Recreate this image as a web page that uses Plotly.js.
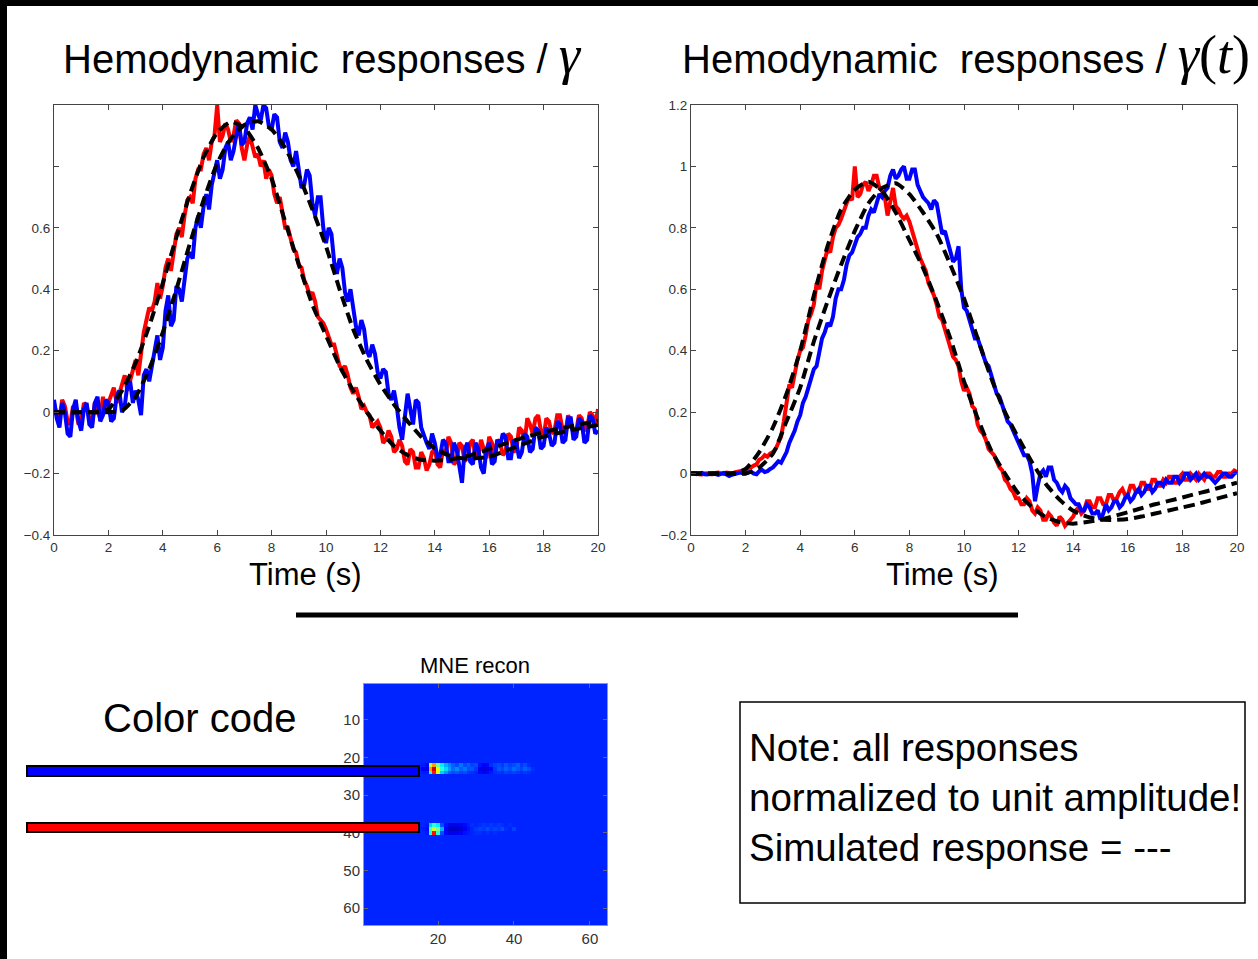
<!DOCTYPE html>
<html>
<head>
<meta charset="utf-8">
<script src="https://cdn.plot.ly/plotly-3.0.1.min.js"></script>
<style>
html,body{margin:0;padding:0;background:#000;}
#chart{width:1258px;height:959px;}
</style>
</head>
<body>
<div id="chart"></div>
<script>
// ---------------- DATA ----------------
// Noisy measured responses, sampled every 0.1 s from 0 to 20 s
const leftRedNoisy = [
 0.03,-0.01,-0.02,0.04,0.02,-0.03,-0.04,0.02,0.01,-0.04,
 -0.03,0.03,0.02,-0.02,-0.04,0.03,0.0,-0.02,0.05,0.0,
 0.03,0.06,0.08,0.03,0.06,0.1,0.12,0.07,0.1,0.14,
 0.17,0.12,0.2,0.26,0.3,0.34,0.33,0.36,0.42,0.37,
 0.41,0.47,0.5,0.46,0.52,0.58,0.6,0.57,0.64,0.69,
 0.7,0.68,0.76,0.79,0.79,0.84,0.86,0.82,0.88,0.9,
 1.0,0.88,0.9,0.94,0.92,0.88,0.9,0.95,0.94,0.86,
 0.82,0.87,0.9,0.86,0.83,0.84,0.8,0.82,0.76,0.79,
 0.77,0.71,0.68,0.7,0.64,0.6,0.6,0.56,0.53,0.52,
 0.48,0.47,0.43,0.41,0.38,0.39,0.36,0.31,0.3,0.29,
 0.27,0.24,0.22,0.22,0.19,0.15,0.14,0.15,0.12,0.08,
 0.06,0.08,0.05,0.01,0.02,0.0,-0.01,-0.05,-0.04,-0.03,
 -0.05,-0.1,-0.09,-0.06,-0.08,-0.13,-0.12,-0.09,-0.11,-0.16,
 -0.17,-0.12,-0.13,-0.18,-0.18,-0.13,-0.15,-0.19,-0.17,-0.13,
 -0.12,-0.17,-0.18,-0.12,-0.14,-0.08,-0.1,-0.17,-0.16,-0.1,
 -0.11,-0.16,-0.15,-0.1,-0.09,-0.15,-0.14,-0.09,-0.12,-0.15,
 -0.08,-0.1,-0.14,-0.09,-0.1,-0.14,-0.13,-0.07,-0.08,-0.13,
 -0.12,-0.05,-0.06,-0.1,-0.02,-0.04,-0.07,-0.02,-0.01,-0.06,
 -0.08,-0.02,-0.03,-0.07,-0.06,-0.01,-0.01,-0.06,-0.07,-0.01,
 -0.03,-0.07,-0.06,-0.01,-0.02,-0.06,-0.05,0.0,-0.01,-0.04,
 0.01];
const leftBlueNoisy = [
 0.04,-0.02,-0.05,0.03,0.0,-0.07,-0.08,0.01,0.04,-0.03,
 -0.06,0.01,0.03,-0.04,-0.05,0.03,0.05,-0.03,-0.01,0.04,
 0.03,-0.03,-0.02,0.05,0.07,0.0,0.02,0.09,0.1,0.03,
 0.07,0.04,-0.01,0.12,0.14,0.1,0.15,0.2,0.25,0.17,
 0.21,0.33,0.38,0.28,0.3,0.41,0.4,0.36,0.44,0.5,
 0.52,0.5,0.6,0.64,0.6,0.67,0.71,0.66,0.74,0.78,
 0.82,0.76,0.79,0.86,0.88,0.82,0.85,0.9,0.94,0.87,
 0.88,0.94,0.96,0.92,1.0,0.97,0.95,1.0,0.99,0.93,
 0.92,0.97,0.96,0.88,0.86,0.91,0.88,0.82,0.8,0.85,
 0.79,0.73,0.74,0.79,0.77,0.68,0.64,0.7,0.7,0.6,
 0.55,0.6,0.58,0.49,0.45,0.5,0.47,0.39,0.36,0.4,
 0.34,0.28,0.25,0.3,0.27,0.2,0.18,0.22,0.19,0.13,
 0.11,0.14,0.13,0.06,0.04,0.07,0.02,-0.05,-0.09,0.0,
 0.06,0.01,-0.04,0.04,0.03,-0.05,-0.08,-0.1,-0.12,-0.07,
 -0.1,-0.15,-0.14,-0.09,-0.1,-0.16,-0.16,-0.1,-0.12,-0.18,
 -0.23,-0.12,-0.1,-0.16,-0.17,-0.1,-0.12,-0.18,-0.2,-0.12,
 -0.1,-0.17,-0.16,-0.09,-0.11,-0.07,-0.08,-0.15,-0.15,-0.09,
 -0.1,-0.15,-0.13,-0.07,-0.08,-0.13,-0.12,-0.05,-0.06,-0.12,
 -0.11,-0.05,-0.07,-0.11,-0.1,-0.03,-0.04,-0.1,-0.09,-0.02,
 -0.02,-0.09,-0.08,-0.02,-0.03,-0.1,-0.09,-0.01,-0.02,-0.07,
 -0.06];
const rightRedNoisy = [
 0.0,0.001,0.002,-0.002,-0.003,0.0,0.001,-0.002,-0.002,0.002,
 0.003,0.0,-0.001,0.003,0.002,0.0,0.004,0.006,0.008,0.01,
 0.012,0.018,0.02,0.026,0.03,0.045,0.05,0.06,0.055,0.065,
 0.07,0.08,0.1,0.12,0.17,0.24,0.29,0.28,0.33,0.37,
 0.4,0.41,0.45,0.5,0.52,0.55,0.62,0.6,0.66,0.7,
 0.73,0.72,0.77,0.8,0.81,0.83,0.86,0.88,0.9,0.89,
 1.0,0.9,0.91,0.94,0.95,0.92,0.94,0.97,0.97,0.93,
 0.92,0.9,0.84,0.88,0.93,0.87,0.86,0.84,0.83,0.84,
 0.82,0.79,0.76,0.72,0.7,0.68,0.66,0.62,0.6,0.58,
 0.55,0.51,0.5,0.47,0.44,0.4,0.38,0.37,0.35,0.3,
 0.27,0.28,0.26,0.22,0.21,0.16,0.14,0.13,0.11,0.08,
 0.07,0.06,0.04,0.02,0.01,-0.02,-0.03,-0.05,-0.06,-0.08,
 -0.08,-0.1,-0.1,-0.08,-0.09,-0.12,-0.13,-0.11,-0.12,-0.15,
 -0.15,-0.13,-0.14,-0.16,-0.17,-0.14,-0.15,-0.17,-0.16,-0.15,
 -0.14,-0.12,-0.11,-0.13,-0.12,-0.09,-0.09,-0.11,-0.11,-0.08,
 -0.08,-0.1,-0.1,-0.07,-0.07,-0.09,-0.08,-0.06,-0.05,-0.07,
 -0.07,-0.04,-0.04,-0.06,-0.06,-0.03,-0.03,-0.05,-0.05,-0.02,
 -0.02,-0.04,-0.04,-0.02,-0.03,-0.01,-0.01,-0.03,-0.03,-0.01,
 0.0,-0.02,-0.02,0.0,-0.01,-0.02,0.0,-0.01,-0.02,0.0,
 0.0,-0.01,-0.01,0.005,0.005,-0.01,-0.01,0.0,0.0,0.01,
 0.005];
const rightBlueNoisy = [
 0.0,0.001,-0.002,0.001,0.002,-0.002,-0.003,0.0,0.001,-0.002,
 -0.004,0.0,0.002,-0.003,-0.008,-0.004,-0.001,0.002,0.003,0.001,
 0.0,0.004,0.006,0.0,-0.002,0.008,0.012,0.005,0.008,0.015,
 0.02,0.03,0.04,0.035,0.05,0.07,0.1,0.12,0.14,0.17,
 0.19,0.23,0.25,0.28,0.31,0.34,0.35,0.4,0.44,0.46,
 0.49,0.48,0.51,0.57,0.6,0.6,0.63,0.68,0.71,0.72,
 0.75,0.77,0.78,0.8,0.8,0.84,0.86,0.85,0.88,0.91,
 0.9,0.92,0.93,0.97,0.99,0.96,0.97,0.99,1.0,0.96,
 0.96,0.99,0.99,0.94,0.92,0.9,0.89,0.88,0.86,0.89,
 0.88,0.82,0.78,0.79,0.76,0.72,0.69,0.7,0.74,0.6,
 0.54,0.53,0.5,0.47,0.44,0.44,0.41,0.38,0.36,0.35,
 0.32,0.29,0.26,0.25,0.22,0.19,0.17,0.16,0.14,0.12,
 0.1,0.08,0.06,0.06,0.04,0.0,-0.09,-0.04,0.0,0.01,
 -0.01,0.02,0.02,-0.02,-0.03,-0.05,-0.06,-0.04,-0.05,-0.08,
 -0.09,-0.1,-0.1,-0.12,-0.12,-0.1,-0.11,-0.13,-0.13,-0.12,
 -0.15,-0.13,-0.1,-0.12,-0.11,-0.09,-0.09,-0.11,-0.1,-0.08,
 -0.07,-0.09,-0.08,-0.06,-0.05,-0.07,-0.06,-0.04,-0.04,-0.06,
 -0.05,-0.03,-0.03,-0.04,-0.02,-0.03,-0.03,-0.01,-0.01,-0.03,
 -0.02,0.0,0.0,-0.02,-0.01,0.0,-0.02,-0.01,0.0,-0.01,
 -0.01,-0.02,-0.03,-0.02,-0.01,0.0,0.0,-0.01,-0.01,0.0,
 0.005];
const noisyStart = 0, noisyStep = 0.1;

// Simulated (dashed) responses, sampled every 0.5 s from 0 to 20 s
const leftRedSim = [0,0,0,0,0.01,0.07,0.16,0.28,0.42,0.57,
 0.71,0.83,0.91,0.945,0.925,0.86,0.76,0.62,0.48,0.35,
 0.25,0.15,0.07,0.0,-0.06,-0.11,-0.14,-0.155,-0.158,-0.155,
 -0.147,-0.135,-0.12,-0.105,-0.09,-0.077,-0.065,-0.055,-0.046,-0.037,
 -0.028];
const leftBlueSim = [0,0,0,0,0,0.005,0.05,0.14,0.26,0.4,
 0.55,0.69,0.81,0.89,0.935,0.947,0.92,0.86,0.77,0.66,
 0.54,0.4,0.27,0.17,0.09,0.025,-0.03,-0.08,-0.118,-0.14,
 -0.15,-0.15,-0.145,-0.13,-0.113,-0.096,-0.08,-0.069,-0.059,-0.05,
 -0.042];
const rightRedSim = [0,0,0,0,0.015,0.07,0.15,0.26,0.4,0.58,
 0.74,0.86,0.925,0.95,0.92,0.85,0.76,0.67,0.56,0.44,
 0.3,0.18,0.075,0.0,-0.066,-0.11,-0.142,-0.158,-0.163,-0.158,
 -0.15,-0.138,-0.126,-0.113,-0.1,-0.089,-0.078,-0.066,-0.055,-0.042,
 -0.03];
const rightBlueSim = [0,0,0,0,0,0.02,0.065,0.17,0.28,0.43,
 0.56,0.68,0.79,0.88,0.93,0.945,0.91,0.85,0.78,0.68,
 0.57,0.44,0.31,0.2,0.115,0.035,-0.034,-0.085,-0.121,-0.14,
 -0.15,-0.151,-0.148,-0.14,-0.13,-0.12,-0.11,-0.1,-0.088,-0.076,
 -0.064];
const simStart = 0, simStep = 0.5;

// Axis ticks
const timeTicks = [0,2,4,6,8,10,12,14,16,18,20];
const leftYTicks = [-0.4,-0.2,0,0.2,0.4,0.6,0.8,1];
const leftYLabels = ['\u22120.4','\u22120.2','0','0.2','0.4','0.6','',''];
const rightYTicks = [-0.2,0,0.2,0.4,0.6,0.8,1,1.2];
const rightYLabels = ['\u22120.2','0','0.2','0.4','0.6','0.8','1','1.2'];

// MNE reconstruction image (64 x 64), background level and the two active bands
const mneSize = 64;
const mneBackground = 0.16;
const bandFirstCol = 16;               // 1-based column of the first value in each band row
const blueBandRows = [22, 23, 24];
const blueRow22 = [0.15,0.13,0.55,0.72,0.5,0.36,0.3,0.26,0.22,0.2,0.24,0.2,0.22,0.19,0.2,0.14,0.12,0.13,0.17,0.19,0.2,0.18,0.21,0.19,0.2,0.22,0.18,0.2,0.17,0.16,0.16,0.16];
const blueRow23 = [0.12,0.1,0.72,0.92,0.62,0.42,0.34,0.28,0.23,0.26,0.22,0.24,0.2,0.21,0.18,0.11,0.09,0.1,0.12,0.18,0.21,0.19,0.22,0.2,0.23,0.21,0.19,0.22,0.2,0.17,0.16,0.16];
const blueRow24 = [0.15,0.15,0.4,0.85,0.58,0.33,0.27,0.22,0.2,0.21,0.19,0.2,0.18,0.17,0.16,0.13,0.12,0.13,0.15,0.17,0.18,0.17,0.19,0.18,0.19,0.18,0.17,0.18,0.17,0.16,0.16,0.16];
const redBandRows = [38, 39, 40];
const redRow38 = [0.16,0.15,0.33,0.42,0.36,0.2,0.14,0.1,0.09,0.1,0.11,0.13,0.15,0.17,0.16,0.17,0.18,0.17,0.18,0.17,0.18,0.17,0.16,0.17,0.16,0.16,0.16,0.16,0.16,0.16,0.16,0.16];
const redRow39 = [0.15,0.14,0.45,0.58,0.5,0.3,0.12,0.07,0.06,0.07,0.08,0.11,0.14,0.16,0.18,0.19,0.18,0.2,0.18,0.19,0.18,0.2,0.17,0.16,0.19,0.16,0.16,0.16,0.16,0.16,0.16,0.16];
const redRow40 = [0.16,0.15,0.4,0.86,0.42,0.2,0.13,0.1,0.1,0.11,0.12,0.14,0.15,0.16,0.17,0.17,0.16,0.17,0.16,0.17,0.16,0.16,0.16,0.16,0.16,0.16,0.16,0.16,0.16,0.16,0.16,0.16];
const mneXTicks = [20,40,60];
const mneYTicks = [10,20,30,40,50,60];

// ---------------- BUILD ----------------
const W = 1258, H = 959;
const fx = p => p / W;
const fy = p => 1 - p / H;

const z = [];
for (let r = 0; r < mneSize; r++) { z.push(new Array(mneSize).fill(mneBackground)); }
function putRow(rowNum, vals) { vals.forEach((v, i) => { z[rowNum - 1][bandFirstCol - 1 + i] = v; }); }
[blueRow22, blueRow23, blueRow24].forEach((vals, i) => putRow(blueBandRows[i], vals));
[redRow38, redRow39, redRow40].forEach((vals, i) => putRow(redBandRows[i], vals));

const jet = [[0,'rgb(0,0,143)'],[0.125,'rgb(0,0,255)'],[0.375,'rgb(0,255,255)'],[0.625,'rgb(255,255,0)'],[0.875,'rgb(255,0,0)'],[1,'rgb(128,0,0)']];

function noisy(y, color, xa, ya) {
  return {type:'scatter', mode:'lines', y:y, x0:noisyStart, dx:noisyStep, xaxis:xa, yaxis:ya,
    line:{color:color, width:4}, hoverinfo:'skip'};
}
function sim(y, xa, ya) {
  return {type:'scatter', mode:'lines', y:y, x0:simStart, dx:simStep, xaxis:xa, yaxis:ya,
    line:{color:'#000', width:4, dash:'11px,6px', shape:'spline', smoothing:0.6}, hoverinfo:'skip'};
}

const traces = [
  {type:'heatmap', z:z, x0:1, dx:1, y0:1, dy:1, xaxis:'x3', yaxis:'y3', colorscale:jet, zmin:0, zmax:1, showscale:false, hoverinfo:'skip'},
  noisy(leftRedNoisy, '#ff0000', 'x', 'y'),
  noisy(leftBlueNoisy, '#0000ff', 'x', 'y'),
  sim(leftRedSim, 'x', 'y'),
  sim(leftBlueSim, 'x', 'y'),
  noisy(rightRedNoisy, '#ff0000', 'x2', 'y2'),
  noisy(rightBlueNoisy, '#0000ff', 'x2', 'y2'),
  sim(rightRedSim, 'x2', 'y2'),
  sim(rightBlueSim, 'x2', 'y2')
];

const FONT = 'Liberation Sans, Arial, Helvetica, sans-serif';
const tickFont = {family:FONT, size:13.5, color:'#333'};
const axBase = {showgrid:false, zeroline:false, showline:true, linecolor:'#444', linewidth:1,
  mirror:'ticks', ticks:'inside', ticklen:5, tickcolor:'#444', tickfont:tickFont, fixedrange:true};

const layout = {
  width:W, height:H, autosize:false,
  margin:{l:0, r:0, t:0, b:0, pad:0},
  paper_bgcolor:'#000', plot_bgcolor:'#fff',
  showlegend:false,
  xaxis: Object.assign({}, axBase, {domain:[fx(54), fx(598)], anchor:'y', range:[0,20], tickvals:timeTicks}),
  yaxis: Object.assign({}, axBase, {domain:[fy(535), fy(105)], anchor:'x', range:[-0.4,1.0], tickvals:leftYTicks, ticktext:leftYLabels}),
  xaxis2: Object.assign({}, axBase, {domain:[fx(691), fx(1237)], anchor:'y2', range:[0,20], tickvals:timeTicks}),
  yaxis2: Object.assign({}, axBase, {domain:[fy(535), fy(105)], anchor:'x2', range:[-0.2,1.2], tickvals:rightYTicks, ticktext:rightYLabels}),
  xaxis3: Object.assign({}, axBase, {domain:[fx(364), fx(607)], anchor:'y3', range:[0.5,64.5], tickvals:mneXTicks, linecolor:'#999', tickcolor:'#666', ticklen:4, tickfont:{family:FONT, size:15, color:'#333'}}),
  yaxis3: Object.assign({}, axBase, {domain:[fy(925), fy(684)], anchor:'x3', range:[64.5,0.5], tickvals:mneYTicks, linecolor:'#999', tickcolor:'#666', ticklen:4, tickfont:{family:FONT, size:15, color:'#333'}}),
  shapes: [
    {type:'rect', layer:'below', xref:'paper', yref:'paper', x0:fx(7), x1:fx(1262), y0:fy(965), y1:fy(6), fillcolor:'#fff', line:{width:0}},
    {type:'line', layer:'above', xref:'paper', yref:'paper', x0:fx(296), x1:fx(1018), y0:fy(615), y1:fy(615), line:{color:'#000', width:5}},
    {type:'rect', layer:'above', xref:'paper', yref:'paper', x0:fx(27), x1:fx(419), y0:fy(776), y1:fy(766), fillcolor:'#0000ff', line:{color:'#000', width:2}},
    {type:'rect', layer:'above', xref:'paper', yref:'paper', x0:fx(27), x1:fx(419), y0:fy(832), y1:fy(823), fillcolor:'#ff0000', line:{color:'#000', width:2}},
    {type:'rect', layer:'above', xref:'paper', yref:'paper', x0:fx(740), x1:fx(1245), y0:fy(903), y1:fy(702), fillcolor:'rgba(0,0,0,0)', line:{color:'#000', width:1.5}}
  ],
  annotations: [
    {xref:'paper', yref:'paper', x:fx(61), y:fy(55), xanchor:'left', yanchor:'middle', showarrow:false,
     font:{family:FONT, size:40, color:'#000'},
     text:'Hemodynamic\u00A0\u00A0responses /\u00A0<span style="font-family:Liberation Serif;font-size:54px"><i>\u03B3</i></span>'},
    {xref:'paper', yref:'paper', x:fx(680), y:fy(55), xanchor:'left', yanchor:'middle', showarrow:false,
     font:{family:FONT, size:40, color:'#000'},
     text:'Hemodynamic\u00A0\u00A0responses\u00A0/\u00A0<span style="font-family:Liberation Serif;font-size:54px"><i>\u03B3</i>(<i>t</i>)</span>'},
    {xref:'paper', yref:'paper', x:fx(305), y:fy(574), xanchor:'center', yanchor:'middle', showarrow:false,
     font:{family:FONT, size:31, color:'#000'}, text:'Time (s)'},
    {xref:'paper', yref:'paper', x:fx(942), y:fy(574), xanchor:'center', yanchor:'middle', showarrow:false,
     font:{family:FONT, size:31, color:'#000'}, text:'Time (s)'},
    {xref:'paper', yref:'paper', x:fx(101), y:fy(718), xanchor:'left', yanchor:'middle', showarrow:false,
     font:{family:FONT, size:40, color:'#000'}, text:'Color code'},
    {xref:'paper', yref:'paper', x:fx(475), y:fy(665), xanchor:'center', yanchor:'middle', showarrow:false,
     font:{family:FONT, size:22, color:'#000'}, text:'MNE recon'},
    {xref:'paper', yref:'paper', x:fx(747), y:fy(797), xanchor:'left', yanchor:'middle', align:'left', showarrow:false,
     font:{family:FONT, size:38.5, color:'#000'},
     text:'Note: all responses<br>normalized to unit amplitude!<br>Simulated response = ---'}
  ]
};

Plotly.newPlot('chart', traces, layout, {staticPlot:true, displayModeBar:false});
</script>
</body>
</html>
